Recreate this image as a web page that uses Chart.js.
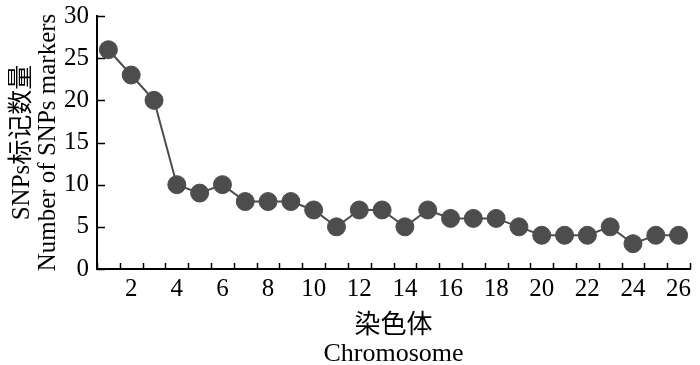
<!DOCTYPE html>
<html>
<head>
  <script src="https://cdn.jsdelivr.net/npm/chart.js"></script>
  <style>
    body { margin: 0; background: #fff; }
    #wrap { width: 700px; height: 365px; }
  </style>
</head>
<body>
  <div id="wrap"><canvas id="snpChart" width="700" height="365"></canvas></div>
  <script>
    const chromosomes = ['1','2','3','4','5','6','7','8','9','10','11','12','13','14','15','16','17','18','19','20','21','22','23','24','25','26'];
    const snpCounts = [26, 23, 20, 10, 9, 10, 8, 8, 8, 7, 5, 7, 7, 5, 7, 6, 6, 6, 5, 4, 4, 4, 5, 3, 4, 4];
    const yTitle = ['SNPs标记数量', 'Number of SNPs markers'];
    const xTitle = ['染色体', 'Chromosome'];

    const fontFamily = '"Liberation Serif", "Times New Roman", "Noto Sans CJK SC", serif';

    // short tick marks pointing into the plot area
    const innerTicks = {
      id: 'innerTicks',
      afterDraw(chart) {
        const ctx = chart.ctx;
        const xs = chart.scales.x, ys = chart.scales.y;
        ctx.save();
        ctx.strokeStyle = '#000';
        ctx.lineWidth = 1.5;
        ctx.beginPath();
        for (let i = 0; i <= chromosomes.length; i++) {
          const px = Math.round(xs.getPixelForValue(i - 0.5)) + 0.5;
          ctx.moveTo(px, ys.bottom);
          ctx.lineTo(px, ys.bottom - 6);
        }
        ys.ticks.forEach(t => {
          const py = Math.round(ys.getPixelForValue(t.value)) + 0.5;
          ctx.moveTo(xs.left, py);
          ctx.lineTo(xs.left + 8, py);
        });
        ctx.stroke();
        ctx.restore();
      }
    };

    new Chart(document.getElementById('snpChart'), {
      type: 'line',
      data: {
        labels: chromosomes,
        datasets: [{
          data: snpCounts,
          borderColor: '#4d4d4d',
          borderWidth: 2,
          backgroundColor: '#4d4d4d',
          pointBackgroundColor: '#4d4d4d',
          pointBorderColor: '#4d4d4d',
          pointBorderWidth: 1,
          pointRadius: 9,
          pointHoverRadius: 9,
          tension: 0,
          clip: false
        }]
      },
      options: {
        responsive: false,
        animation: false,
        layout: { padding: { top: 16, right: 3, left: 0, bottom: 0 } },
        plugins: { legend: { display: false }, tooltip: { enabled: false } },
        scales: {
          x: {
            type: 'category',
            offset: true,
            grid: { display: true, offset: true, drawOnChartArea: false, drawTicks: false, color: 'rgba(0,0,0,0)' },
            border: { display: true, color: '#000', width: 2 },
            ticks: {
              autoSkip: false,
              maxRotation: 0,
              padding: 5,
              color: '#000',
              font: { family: fontFamily, size: 25 },
              callback: function(value, index) {
                return (index + 1) % 2 === 0 ? chromosomes[index] : '';
              }
            },
            title: {
              display: true,
              text: xTitle,
              color: '#000',
              font: { family: fontFamily, size: 26, lineHeight: 1.08 },
              padding: { top: 0, bottom: -3 }
            },
            afterFit: s => { s.height = 96; s.paddingLeft = 0; s.paddingRight = 0; }
          },
          y: {
            min: 0,
            max: 30,
            grid: { display: true, drawOnChartArea: false, drawTicks: false, color: 'rgba(0,0,0,0)' },
            border: { display: true, color: '#000', width: 2 },
            ticks: {
              stepSize: 5,
              padding: 8,
              color: '#000',
              font: { family: fontFamily, size: 25 }
            },
            title: {
              display: true,
              text: yTitle,
              color: '#000',
              font: { family: fontFamily, size: 25, lineHeight: 1.02 },
              padding: { top: 10, bottom: 0 }
            },
            afterFit: s => { s.width = 97; s.paddingTop = 0; s.paddingBottom = 0; }
          }
        }
      },
      plugins: [innerTicks]
    });
  </script>
</body>
</html>
